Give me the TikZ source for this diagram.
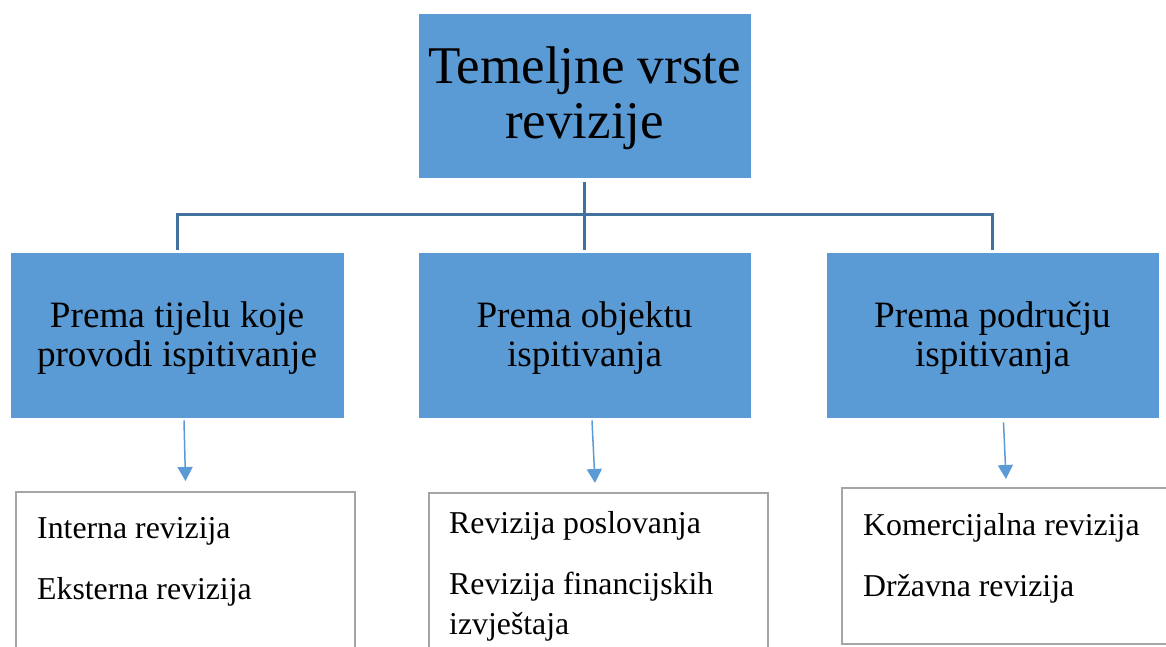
\documentclass[tikz,border=0pt]{standalone}
\usepackage{fontspec}
\setmainfont{Liberation Serif}
\usetikzlibrary{calc,arrows.meta}
\definecolor{boxblue}{HTML}{5B9BD5}
\definecolor{linkblue}{HTML}{41719C}
\definecolor{boxgray}{HTML}{A5A5A5}
\newcommand{\firstlift}[1]{\rule{0pt}{#1}}
\begin{document}
\begin{tikzpicture}[x=1pt,y=-1pt,
  bluebox/.style={fill=boxblue, draw=white, line width=0.6pt, inner sep=0pt, align=center},
  topfont/.style={font=\fontsize{53}{55}\selectfont},
  midfont/.style={font=\fontsize{37.2}{39}\selectfont},
  lowbox/.style={draw=boxgray, line width=2pt, fill=white, inner sep=0pt, anchor=north west},
  lowtext/.style={font=\fontsize{31.8}{39}\selectfont, align=left, inner sep=0pt, anchor=north west},
  link/.style={draw=linkblue, line width=3pt},
  arr/.style={draw=boxblue, line width=1.5pt, -{Triangle[width=15pt,length=14pt]}}
]
\clip (0,0) rectangle (1166,646);
\fill[white] (0,0) rectangle (1166,646);

% boxes
\node[bluebox, topfont, minimum width=333pt, minimum height=165pt] (top) at (584.5,95.5) {\firstlift{0.785em}Temeljne vrste\\revizije};
\node[bluebox, midfont, minimum width=334pt, minimum height=166pt] (m1) at (177,335) {\firstlift{0.84em}Prema tijelu koje\\provodi ispitivanje};
\node[bluebox, midfont, minimum width=333pt, minimum height=166pt] (m2) at (584.5,335) {\firstlift{0.84em}Prema objektu\\ispitivanja};
\node[bluebox, midfont, minimum width=333pt, minimum height=166pt] (m3) at (992.5,335) {\firstlift{0.84em}Prema području\\ispitivanja};

\node[lowbox, minimum width=339pt, minimum height=300pt] (b1) at (15,491) {};
\node[lowbox, minimum width=339pt, minimum height=300pt] (b2) at (428,492) {};
\node[lowbox, minimum width=340pt, minimum height=156pt] (b3) at (841,487) {};

\node[lowtext] (t1) at (37,517) {Interna revizija\\[22pt]Eksterna revizija};
\node[lowtext] (t2) at (449,511) {Revizija poslovanja\\[22pt]Revizija financijskih\\[1pt]izvještaja};
\node[lowtext] (t3) at (863,513) {Komercijalna revizija\\[22pt]Državna revizija};

% connectors
\draw[link] ($(top.south)+(0,4)$) -- ($(m2.north)+(0,-2)$);
\draw[link] ($(m1.north)+(0,-2)$) -- ($(m1.north)+(0,-37)$) -| ($(m3.north)+(0,-2)$);

% arrows
\draw[arr] ($(m1.south)+(7,2)$) -- ($(b1.north)+(0,-10)$);
\draw[arr] ($(m2.south)+(7.5,2)$) -- ($(b2.north)+(-3.5,-9)$);
\draw[arr] ($(m3.south)+(11,4)$) -- ($(b3.north west)+(165,-8)$);
\end{tikzpicture}
\end{document}
